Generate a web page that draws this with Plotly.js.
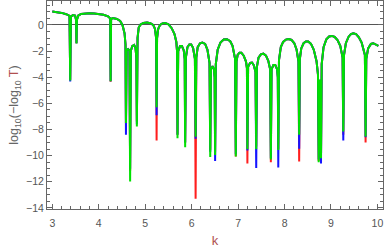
<!DOCTYPE html>
<html>
<head>
<meta charset="utf-8">
<script src="https://cdn.plot.ly/plotly-3.0.1.min.js"></script>
<style>html,body{margin:0;padding:0;background:#fff;}#chart{width:386px;height:249px;}</style>
</head>
<body>
<div id="chart"></div>
<script>
// Smooth (upper) part of the curve, shared by the three series
const topK = [3.00,3.10,3.20,3.30,3.37, 3.40,3.44,3.49,3.51, 3.53,3.56,3.62,3.70,3.80,3.90,4.00,4.10,4.20,4.245,
  4.265,4.30,4.39,4.46,4.51,4.555,4.575, 4.60,4.63,4.66, 4.69,4.72,4.76,4.79,4.81,
  4.835,4.86,4.90,4.96,5.04,5.11,5.17,5.21,5.235, 5.255,5.28,5.32,5.37,5.43,5.50,5.57,5.63,5.67,5.685,
  5.71,5.75,5.79,5.83,5.85, 5.875,5.91,5.95,5.99,6.03,6.07, 6.10,6.13,6.18,6.23,6.29,6.34,6.385,
  6.415,6.45,6.48,6.495, 6.52,6.56,6.62,6.69,6.76,6.83,6.88,6.935, 6.965,6.99,7.03,7.07,7.12,7.17,7.19,
  7.215,7.26,7.30,7.34,7.375, 7.405,7.44,7.49,7.545,7.60,7.65,7.69, 7.72,7.76,7.80,7.84,7.855,
  7.88,7.92,7.97,8.03,8.09,8.15,8.21,8.26,8.30, 8.33,8.36,8.41,8.46,8.51,8.57,8.63,8.69,8.72,
  8.76, 8.80,8.84,8.90,8.96,9.02,9.08,9.14,9.20,9.25, 9.28,9.32,9.38,9.43,9.48,9.54,9.60,9.66,9.73,
  9.76,9.80,9.86,9.91,9.96,10.02];
const topY = [1.02,0.98,0.92,0.82,0.70, 0.62,0.76,0.72,0.40, 0.40,0.72,0.84,0.88,0.89,0.87,0.84,0.78,0.65,0.50,
  0.45,0.52,0.46,0.30,0.00,-0.64,-1.5, -1.95,-1.85,-1.95, -2.0,-1.62,-1.53,-1.75,-2.5,
  -1.0,-0.2,0.03,0.15,0.18,0.13,0.0,-0.3,-1.0, -1.0,-0.3,0.0,0.12,0.15,0.05,-0.25,-0.7,-1.3,-2.0,
  -2.0,-1.62,-1.62,-1.95,-2.6, -2.5,-1.7,-1.5,-1.5,-1.75,-2.6, -2.5,-1.7,-1.4,-1.35,-1.45,-1.9,-2.9,
  -3.4,-3.15,-3.4,-4.0, -3.0,-1.9,-1.35,-1.12,-1.09,-1.25,-1.6,-2.6, -2.8,-2.3,-2.12,-2.12,-2.35,-2.8,-3.3,
  -3.2,-2.9,-2.88,-3.1,-3.6, -3.2,-2.5,-2.25,-2.2,-2.35,-2.75,-3.4, -3.4,-3.07,-3.07,-3.4,-4.0,
  -2.7,-1.7,-1.3,-1.12,-1.08,-1.15,-1.4,-1.9,-2.8, -2.6,-1.8,-1.4,-1.27,-1.27,-1.45,-1.9,-2.8,-3.8,
  -4.2, -3.0,-1.7,-1.1,-0.88,-0.84,-0.92,-1.15,-1.6,-2.5, -2.3,-1.4,-0.9,-0.7,-0.64,-0.7,-0.95,-1.35,-2.3,
  -2.6,-1.8,-1.45,-1.4,-1.5,-1.6];

// Resonance dips: positions and depth reached by each series
const dipK     = [3.385,3.52,4.255,4.585,4.675,4.82,5.245,5.695,5.86,6.085,6.40,6.505,6.95,7.20,7.39,7.705,7.865,8.315,8.735,8.785,9.265,9.745];
const dipGreen = [-4.25,-1.42,-4.3,-7.5,-11.97,-7.77,-6.3,-8.66,-9.35,-8.56,-10.1,-9.95,-10.06,-9.5,-9.5,-10.3,-9.57,-8.4,-10.5,-10.2,-8.15,-8.53];
const dipBlue  = [-4.33,-1.4,-4.3,-8.4,-11.0,-7.6,-6.9,-8.4,-9.0,-8.7,-9.7,-10.4,-9.9,-9.6,-10.95,-10.2,-10.9,-9.47,-10.3,-10.6,-8.84,-8.6];
const dipRed   = [-4.2,-1.4,-4.35,-7.5,-11.15,-7.38,-8.84,-8.4,-9.0,-13.3,-9.55,-9.7,-10.06,-10.6,-9.3,-10.5,-9.5,-10.44,-10.4,-10.2,-8.4,-8.99];

function build(dips){
  const pts = topK.map((k,i)=>[k, topY[i]]).concat(dipK.map((k,i)=>[k, dips[i]]));
  pts.sort((a,b)=>a[0]-b[0]);
  return {x: pts.map(p=>p[0]), y: pts.map(p=>p[1])};
}

const series = [
  {d: dipRed,   c: 'rgb(255,30,30)'},
  {d: dipBlue,  c: 'rgb(20,20,255)'},
  {d: dipGreen, c: 'rgb(0,225,0)'}
];
const traces = series.map(s => {
  const b = build(s.d);
  return {x: b.x, y: b.y, type: 'scatter', mode: 'lines',
          line: {color: s.c, width: 2}, hoverinfo: 'skip', showlegend: false};
});

const axisCommon = {
  showgrid: false, showline: true, mirror: 'ticks', linecolor: '#666', linewidth: 1,
  ticks: 'inside', ticklen: 5, tickcolor: '#666', tickwidth: 1,
  tickfont: {family: 'Liberation Sans, Arial, sans-serif', size: 10.5, color: '#555'}
};

const layout = {
  width: 386, height: 249,
  margin: {l: 47, r: 3, t: 1, b: 40},
  paper_bgcolor: '#fff', plot_bgcolor: '#fff',
  xaxis: Object.assign({}, axisCommon, {
    range: [2.885, 10.12], tick0: 3, dtick: 1, zeroline: false, ticklabelstandoff: 4,
    minor: {dtick: 0.2, ticks: 'inside', ticklen: 3, tickcolor: '#666', showgrid: false},
    title: {text: 'k', font: {family: 'Liberation Sans, Arial, sans-serif', size: 13, color: '#b05050'}, standoff: 8}
  }),
  yaxis: Object.assign({}, axisCommon, {
    range: [-14.08, 1.83], tick0: 0, dtick: 2,
    zeroline: true, zerolinecolor: '#555', zerolinewidth: 1,
    minor: {dtick: 0.5, ticks: 'inside', ticklen: 3, tickcolor: '#666', showgrid: false},
    title: {text: 'log<sub>10</sub>(−log<sub>10</sub> <span style="color:#b05050">T</span>)',
            font: {family: 'Liberation Sans, Arial, sans-serif', size: 12.5, color: '#666'}, standoff: 4}
  })
};

Plotly.newPlot('chart', traces, layout, {staticPlot: true, displayModeBar: false});
</script>
</body>
</html>
